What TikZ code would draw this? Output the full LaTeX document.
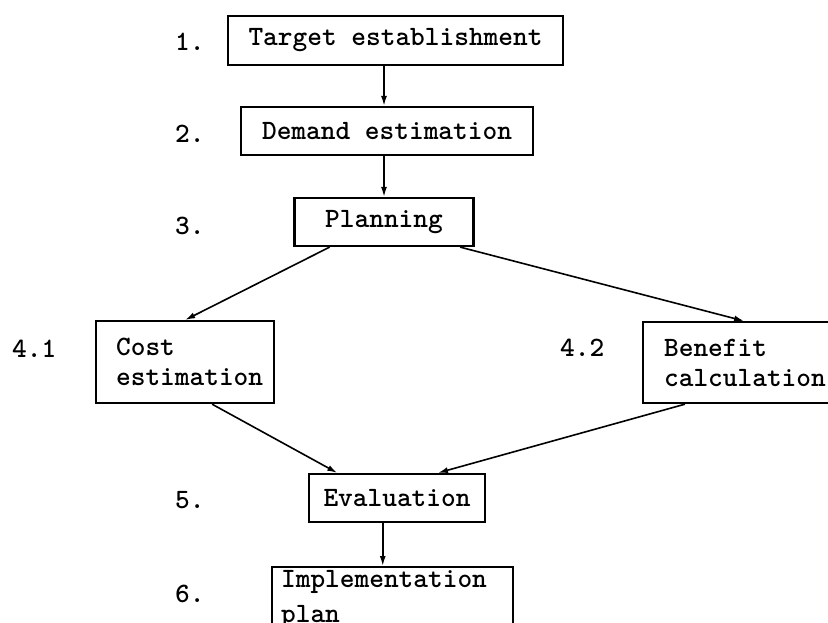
\documentclass[tikz,border=0pt]{standalone}
\usepackage{fontspec}
\usetikzlibrary{calc,arrows.meta}

\begin{document}
\begin{tikzpicture}[x=1pt,y=-1pt,>={Latex[length=10pt,width=6pt]},font=\ttfamily\bfseries\fontsize{28}{30}\selectfont]
   % Styles
   \tikzset{
      stepbox/.style={draw,line width=2.2pt,inner sep=0pt},
      steplabel/.style={anchor=west,inner sep=0pt},
      flow/.style={->,line width=1.6pt}
   }
   \useasboundingbox (0,0) rectangle (828,623);
   % Boxes
   \node [stepbox,minimum width=335,minimum height=49] (target) at (395.5,40.5) {Target establishment};
   \node [stepbox,minimum width=292,minimum height=48] (demand) at (387,131) {Demand estimation};
   \node [stepbox,minimum width=179,minimum height=48] (plan) at (384,222) {Planning};
   \node [stepbox,anchor=north west,minimum height=82,inner xsep=20,text width=138,align=left] (cost) at (95,320) {Cost\\estimation};
   \node [stepbox,anchor=north west,minimum height=81,inner xsep=21,text width=160,align=left] (benefit) at (642,321) {Benefit\\calculation};
   \node [stepbox,minimum width=176,minimum height=48] (eval) at (397,498) {Evaluation};
   \node [stepbox,anchor=north west,inner xsep=9,inner ysep=3,align=left] (impl) at (271,566) {\makebox[223pt][l]{Implementation}\\[5pt]plan\\[30pt]};
   % Step numbers
   \node [steplabel] (n1) at (175,42) {1.};
   \node [steplabel] (n2) at (175,134) {2.};
   \node [steplabel] (n3) at (175,226) {3.};
   \node [steplabel] (n41) at (12,349) {4.1};
   \node [steplabel] (n42) at (560,348) {4.2};
   \node [steplabel] (n5) at (175,500) {5.};
   \node [steplabel] (n6) at (175,594) {6.};
   % Connectors
   \draw [flow] (plan.north |- target.south) -- (plan.north |- demand.north);
   \draw [flow] (plan.north |- demand.south) -- (plan.north);
   \draw [flow] ($(plan.south west)!0.2!(plan.south east)$) -- (cost.north);
   \draw [flow] ($(plan.south west)!0.92!(plan.south east)$) -- (benefit.north);
   \draw [flow] ($(cost.south west)!0.65!(cost.south east)$) -- ($(eval.north west)!0.165!(eval.north east)$);
   \draw [flow] ($(benefit.south west)!0.21!(benefit.south east)$) -- ($(eval.north west)!0.73!(eval.north east)$);
   \coordinate (evalout) at ($(eval.south west)!0.42!(eval.south east)$);
   \draw [flow] (evalout) -- (evalout |- impl.north);
\end{tikzpicture}
\end{document}
